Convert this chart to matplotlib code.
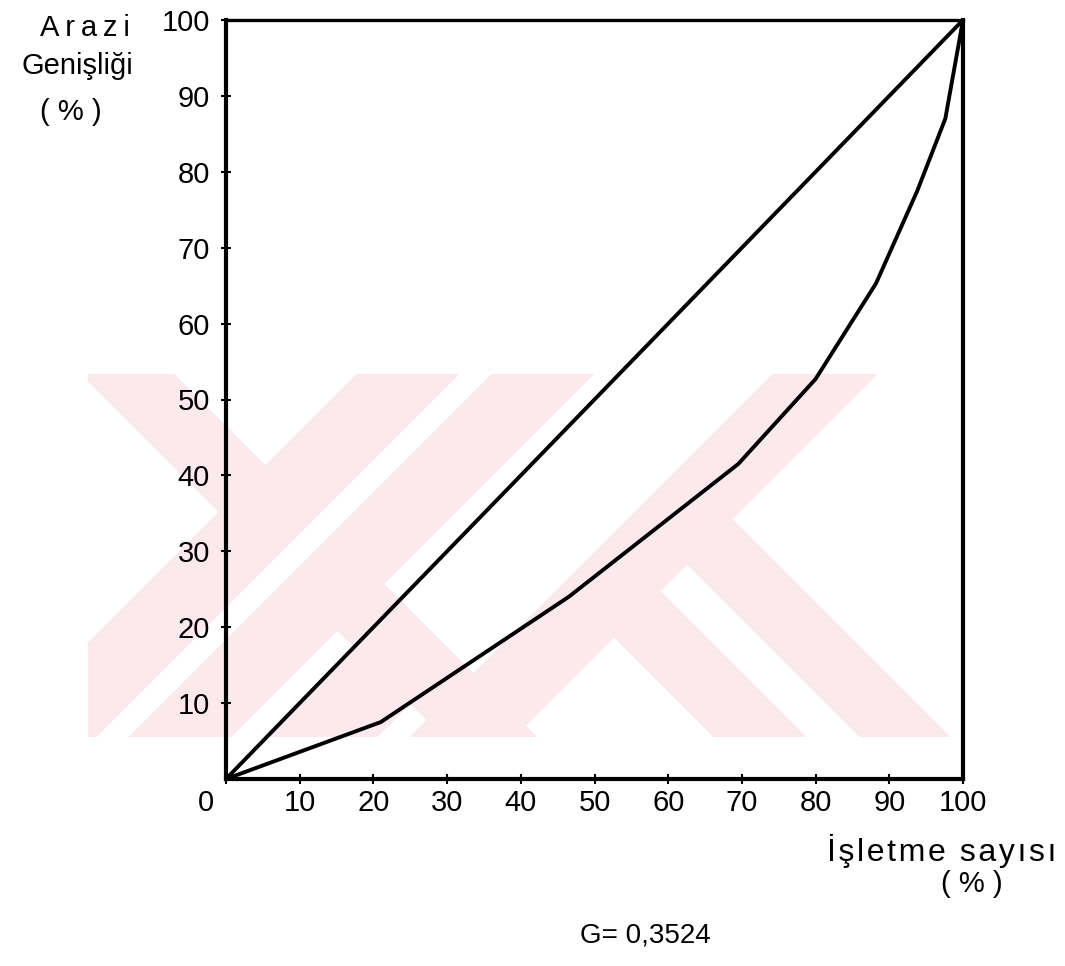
"""Lorenz curve of land distribution (Gini) - redrawn from a scanned thesis figure."""
import numpy as np
import matplotlib

matplotlib.use("Agg")
import matplotlib.pyplot as plt  # noqa: E402
from matplotlib.transforms import ScaledTranslation  # noqa: E402

W, H = 1065, 966

# cumulative share of holdings (%) vs cumulative share of land (%)
equal_x = [0, 100]
equal_y = [0, 100]
lorenz_x = [0, 21, 46.5, 69.5, 80, 88.2, 93.8, 97.6, 100]
lorenz_y = [0, 7.5, 24, 41.5, 52.7, 65.3, 77.5, 87, 100]

x_ticks = [0, 10, 20, 30, 40, 50, 60, 70, 80, 90, 100]
y_ticks = [10, 20, 30, 40, 50, 60, 70, 80, 90, 100]

plt.rcParams["font.family"] = ["Liberation Sans", "DejaVu Sans"]


def _spaced(text, gap="\u2009"):
    # the scan uses wide, hand-lettered tracking
    return gap.join(text)


def _watermark():
    """Faint pink 'XK' stripes of the repository watermark, as an RGBA image."""
    xs = np.arange(W) + 0.5
    ys = np.arange(H) + 0.5
    x, y = np.meshgrid(xs, ys)
    s, d = x + y, x - y
    band = (y >= 374) & (y <= 737) & (x >= 88) & (x <= 962)
    s1 = (d >= -293) & (d <= -200)
    s2 = (s >= 731) & (s <= 833)
    s3 = (s >= 866) & (s <= 968)
    l1 = (s >= 1000) & (s <= 1114) & (d < -293)
    r1 = (s >= 1147) & (s <= 1251)
    legs = (s > 1251) & (((d >= -23) & (d <= 69)) | ((d >= 123) & (d <= 213)))
    pink = band & (s1 | s2 | s3 | l1 | r1 | legs) & ~((s > 833) & (s < 866))
    img = np.ones((H, W, 4))
    img[pink, :3] = np.array([252, 233, 237]) / 255
    return img


fig = plt.figure(figsize=(W / 100, H / 100), dpi=100)

bg = fig.add_axes([0, 0, 1, 1], zorder=0)
bg.imshow(_watermark(), extent=(0, W, H, 0), interpolation="nearest")
bg.set_xlim(0, W)
bg.set_ylim(H, 0)
bg.axis("off")

ax = fig.add_axes([226 / W, 1 - 779 / H, (963 - 226) / W, (779 - 20) / H], zorder=1)
ax.set_facecolor("none")

ax.plot(equal_x, equal_y, color="black", lw=2.8, solid_capstyle="round")
ax.plot(lorenz_x, lorenz_y, color="black", lw=2.8, solid_joinstyle="round")

ax.set_xlim(0, 100)
ax.set_ylim(0, 100)
for sp in ax.spines.values():
    sp.set_linewidth(3)
ax.spines["top"].set_linewidth(2.4)

ax.set_xticks(x_ticks)
ax.set_xticklabels([str(v) for v in x_ticks])
ax.set_yticks(y_ticks)
ax.set_yticklabels([str(v) for v in y_ticks])
ax.tick_params(direction="inout", length=7, width=1.5, labelsize=21, colors="black")
ax.tick_params(axis="x", pad=4)
ax.tick_params(axis="y", pad=8)

# the "0" sits left of the origin in the original
lbl0 = ax.get_xticklabels()[0]
lbl0.set_transform(lbl0.get_transform() + ScaledTranslation(-0.2, 0, fig.dpi_scale_trans))

fs = 21
fig.text(85 / W, 1 - 28 / H, _spaced("Arazi"), ha="center", va="center", fontsize=fs)
fig.text(77 / W, 1 - 66 / H, "Genişliği", ha="center", va="center", fontsize=fs)
fig.text(71 / W, 1 - 112 / H, "( % )", ha="center", va="center", fontsize=fs)

fig.text(942 / W, 1 - 851 / H, _spaced("İşletme sayısı", "\u200a"),
         ha="center", va="center", fontsize=23)
fig.text(972 / W, 1 - 884 / H, "( % )", ha="center", va="center", fontsize=fs)

fig.text(645 / W, 1 - 935 / H, "G= 0,3524", ha="center", va="center", fontsize=20)

fig.savefig("out.png", dpi=100)
